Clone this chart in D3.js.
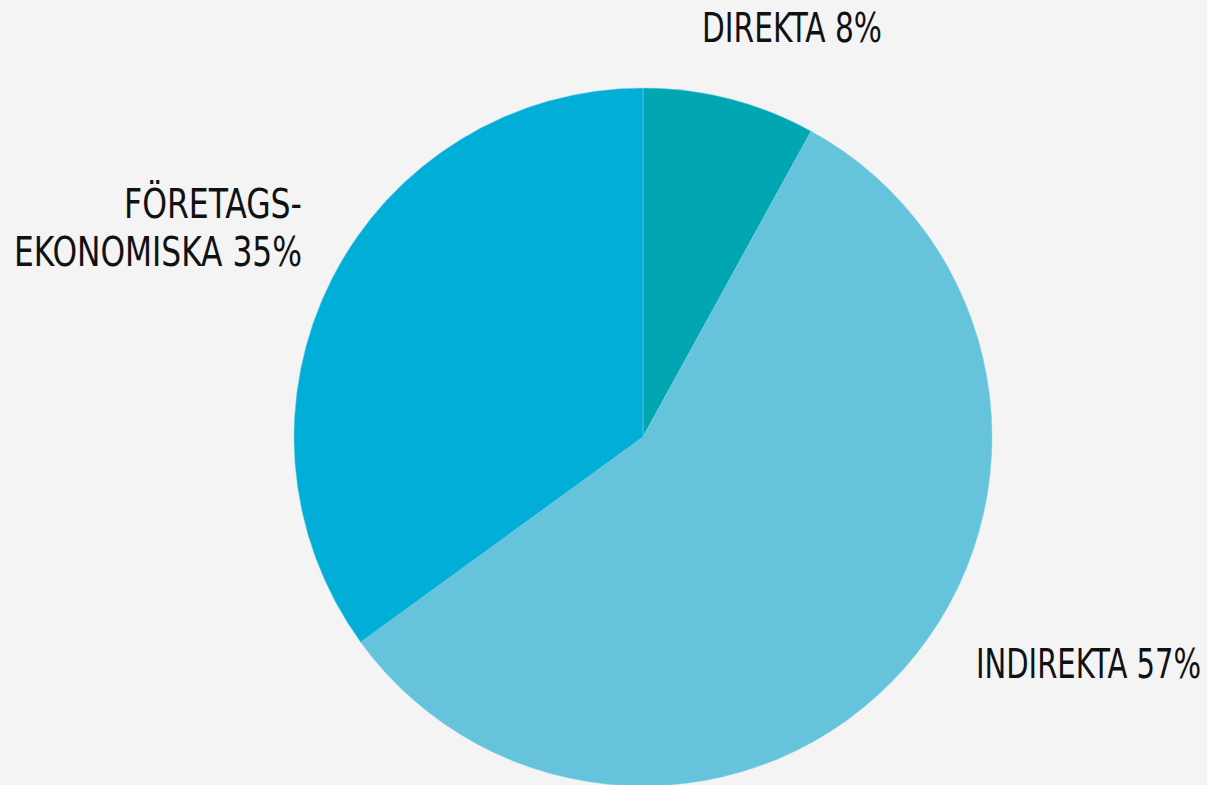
<!DOCTYPE html>
<html>
<head>
<meta charset="utf-8">
<script src="https://cdn.jsdelivr.net/npm/d3@7"></script>
<style>
  html, body { margin: 0; padding: 0; background: #f4f4f4; }
  svg { display: block; }
  .label { font-family: "Liberation Sans Narrow", "DejaVu Sans Condensed", "Liberation Sans", sans-serif; font-size: 40px; fill: #111; }
</style>
</head>
<body>
<div id="chartArea"></div>
<script>
// data
const categories = ["DIREKTA", "INDIREKTA", "FÖRETAGSEKONOMISKA"];
const values = [8, 57, 35];
const colors = ["#00a6b1", "#66c3dc", "#00aed8"];
// label text lines
const labelLines = [["DIREKTA 8%"], ["INDIREKTA 57%"], ["FÖRETAGS-", "EKONOMISKA 35%"]];

const width = 1207, height = 785;
const cx = 643, cy = 437, radius = 349;

var svg = d3.select("#chartArea").append("svg")
    .attr("width", width)
    .attr("height", height);

var g = svg.append("g").attr("transform", "translate(" + cx + "," + cy + ")");

var pie = d3.pie().sort(null).value(function (d) { return d; });
var arc = d3.arc().innerRadius(0).outerRadius(radius);

var arcs = pie(values);

g.selectAll("path.slice")
    .data(arcs)
    .enter()
    .append("path")
    .attr("class", "slice")
    .attr("d", arc)
    .style("fill", function (d, i) { return colors[i]; })
    .style("stroke", "#7fd0e0")
    .style("stroke-width", 0.5);

// label placement
const labelPos = [
    { x: 702, y: 42, anchor: "start", w: [180], size: 40 },
    { x: 1201, y: 678, anchor: "end", w: [225], size: 40 },
    { x: 302, y: 218, anchor: "end", w: [178, 288], dy: 48, size: 40 }
];

labelLines.forEach(function (lines, i) {
    var p = labelPos[i];
    lines.forEach(function (t, j) {
        svg.append("text")
            .attr("class", "label")
            .attr("x", p.x)
            .attr("y", p.y + j * (p.dy || 0))
            .attr("text-anchor", p.anchor)
            .style("font-size", p.size + "px")
            .attr("textLength", p.w[j])
            .attr("lengthAdjust", "spacingAndGlyphs")
            .text(t);
    });
});
</script>
</body>
</html>
